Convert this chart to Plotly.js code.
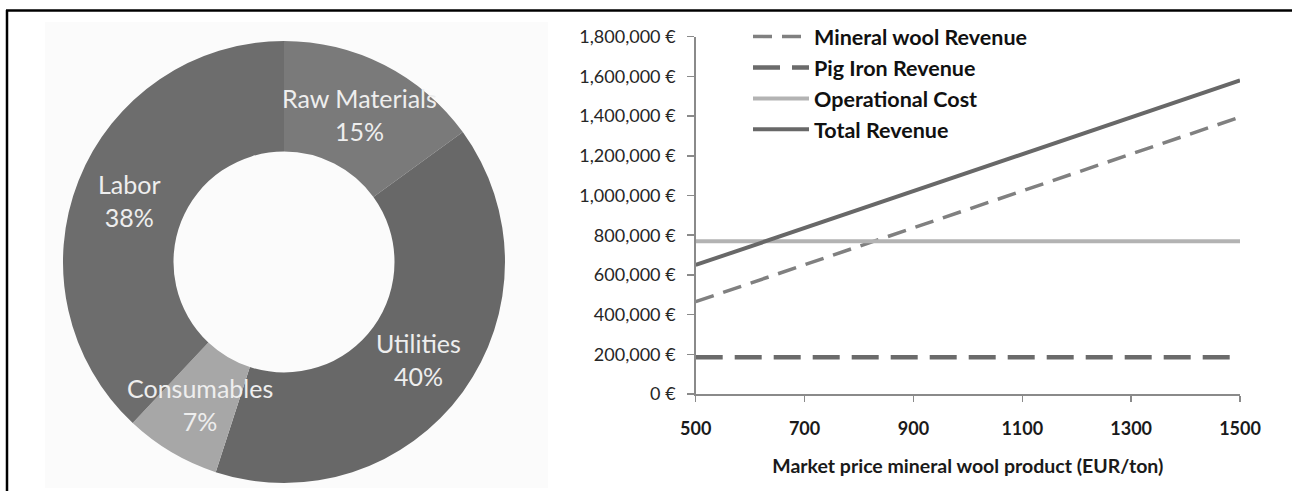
<!DOCTYPE html>
<html>
<head>
<meta charset="utf-8">
<script src="https://cdn.plot.ly/plotly-3.0.1.min.js"></script>
<style>
  html, body { margin: 0; padding: 0; background: #ffffff; }
  #chart { width: 1292px; height: 491px; }
</style>
</head>
<body>
<div id="chart"></div>
<script>
// ---- Data ----
const costCategories = ['Raw Materials', 'Utilities', 'Consumables', 'Labor'];
const costShares = [15, 40, 7, 38];
const costColors = ['#7a7a7a', '#686868', '#a7a7a7', '#6d6d6d'];

const prices = [500, 700, 900, 1100, 1300, 1500];
const mineralWoolRevenue = [465000, 651000, 837000, 1023000, 1209000, 1395000];
const pigIronRevenue = [185000, 185000, 185000, 185000, 185000, 185000];
const operationalCost = [770000, 770000, 770000, 770000, 770000, 770000];
const totalRevenue = [650000, 836000, 1022000, 1208000, 1394000, 1580000];

const seriesNames = ['Mineral wool Revenue', 'Pig Iron Revenue', 'Operational Cost', 'Total Revenue'];
const xAxisTitle = 'Market price mineral wool product (EUR/ton)';

// ---- Layout constants (pixels) ----
const W = 1292, H = 491;
const FONT = 'Lato, "Liberation Sans", sans-serif';
const pieCx = 284, pieCy = 262, pieR = 221, pieHole = 0.5;
const px = v => v / W;
const py = v => 1 - v / H;

// ---- Traces ----
const pieTrace = {
  type: 'pie',
  labels: costCategories,
  values: costShares,
  sort: false,
  direction: 'clockwise',
  rotation: 0,
  hole: pieHole,
  textinfo: 'none',
  marker: { colors: costColors, line: { width: 0 } },
  domain: { x: [px(pieCx - pieR), px(pieCx + pieR)], y: [py(pieCy + pieR), py(pieCy - pieR)] },
  showlegend: false,
  hoverinfo: 'label+percent'
};

const lineTraces = [
  { x: prices, y: mineralWoolRevenue, name: seriesNames[0], type: 'scatter', mode: 'lines',
    line: { color: '#808080', width: 3.5, dash: '19px,10px' } },
  { x: prices, y: pigIronRevenue, name: seriesNames[1], type: 'scatter', mode: 'lines',
    line: { color: '#6b6b6b', width: 4.5, dash: '27px,12px' } },
  { x: prices, y: operationalCost, name: seriesNames[2], type: 'scatter', mode: 'lines',
    line: { color: '#b3b3b3', width: 4 } },
  { x: prices, y: totalRevenue, name: seriesNames[3], type: 'scatter', mode: 'lines',
    line: { color: '#686868', width: 4 } }
];

// ---- Pie labels placed at slice mid-angle, mid-ring ----
const total = costShares.reduce((a, b) => a + b, 0);
const annotations = [];
let cum = 0;
const rMid = pieR * (1 + pieHole) / 2;
costCategories.forEach((cat, i) => {
  const mid = (cum + costShares[i] / 2) / total;
  cum += costShares[i];
  const th = 2 * Math.PI * mid;
  const lx = pieCx + rMid * Math.sin(th);
  const ly = pieCy - rMid * Math.cos(th);
  annotations.push({
    xref: 'paper', yref: 'paper', x: px(lx), y: py(ly),
    xanchor: 'center', yanchor: 'middle', showarrow: false,
    text: cat + '<br>' + costShares[i] + '%',
    font: { family: FONT, size: 25, color: '#eeeeee' }
  });
});

const layout = {
  width: W, height: H,
  margin: { l: 0, r: 0, t: 0, b: 0 },
  paper_bgcolor: '#ffffff',
  plot_bgcolor: 'rgba(0,0,0,0)',
  font: { family: FONT, color: '#262626' },
  showlegend: true,
  legend: {
    x: px(748), y: py(16), xanchor: 'left', yanchor: 'top',
    bgcolor: 'rgba(0,0,0,0)', borderwidth: 0,
    font: { family: FONT, size: 21.5, color: '#111111', weight: 'bold' },
    tracegroupgap: 0, itemwidth: 56
  },
  xaxis: {
    domain: [px(695.7), px(1240)],
    range: [500, 1500],
    tickmode: 'array', tickvals: prices, ticktext: prices.map(String),
    showline: true, linecolor: '#8a8a8a', linewidth: 1.5,
    ticks: 'outside', ticklen: 6, tickcolor: '#8a8a8a', tickwidth: 1.5,
    showgrid: false, zeroline: false,
    tickfont: { family: FONT, size: 18, color: '#1a1a1a', weight: 'bold' },
    ticklabelstandoff: 12,
    title: { text: xAxisTitle, standoff: 21, font: { family: FONT, size: 19.5, color: '#1a1a1a', weight: 'bold' } }
  },
  yaxis: {
    domain: [py(394), py(36.7)],
    range: [0, 1800000],
    tick0: 0, dtick: 200000,
    tickformat: ',d', ticksuffix: ' €',
    showline: true, linecolor: '#8a8a8a', linewidth: 1.5,
    ticks: 'outside', ticklen: 7, tickcolor: '#8a8a8a', tickwidth: 1.5,
    showgrid: false, zeroline: false,
    tickfont: { family: FONT, size: 18, color: '#262626' },
    ticklabelstandoff: 8
  },
  shapes: [
    { type: 'rect', xref: 'paper', yref: 'paper', layer: 'below',
      x0: px(45), x1: px(548), y0: py(488), y1: py(22),
      fillcolor: '#fbfbfb', line: { width: 0 } },
    { type: 'line', xref: 'paper', yref: 'paper', x0: px(6), x1: 1, y0: py(10.5), y1: py(10.5),
      line: { color: '#000000', width: 2.5 } },
    { type: 'line', xref: 'paper', yref: 'paper', x0: px(7), x1: px(7), y0: 0, y1: py(10),
      line: { color: '#000000', width: 2.5 } }
  ],
  annotations: annotations
};

Plotly.newPlot('chart', [pieTrace].concat(lineTraces), layout, { displayModeBar: false, staticPlot: true });
</script>
</body>
</html>
